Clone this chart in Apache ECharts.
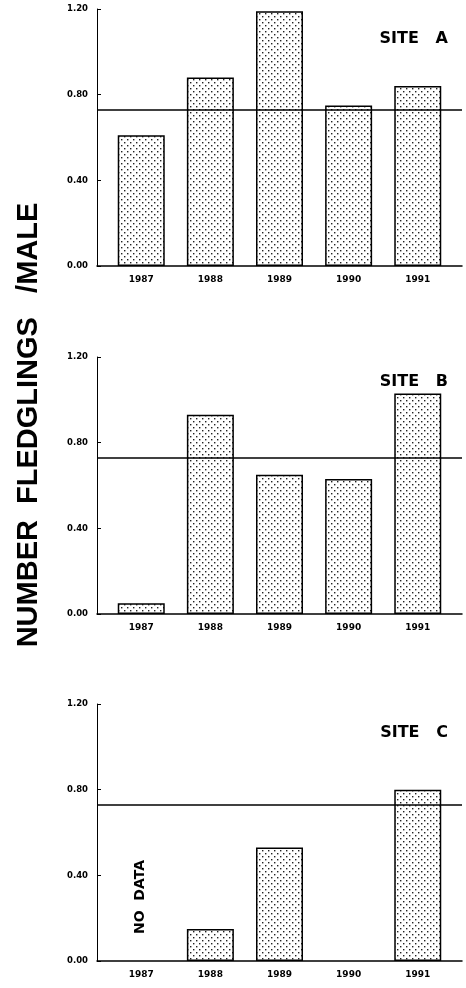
<!DOCTYPE html>
<html>
<head>
<meta charset="utf-8">
<script src="https://cdn.jsdelivr.net/npm/echarts@6/dist/echarts.min.js"></script>
<style>
html,body{margin:0;padding:0;background:#fff;}
#chart{width:466px;height:988px;}
</style>
</head>
<body>
<div id="chart"></div>
<script>
// ---- data ----
const years = [1987, 1988, 1989, 1990, 1991];
const siteA = [0.61, 0.88, 1.19, 0.75, 0.84];
const siteB = [0.05, 0.93, 0.65, 0.63, 1.03];
const siteC = [null, 0.15, 0.53, null, 0.80];
const siteNames = ['SITE   A', 'SITE   B', 'SITE   C'];
const meanLine = [0.73, 0.73, 0.73];
const yTitle = 'NUMBER  FLEDGLINGS   /MALE';
const noDataText = 'NO  DATA';

// ---- pattern ----
function makePattern() {
  const c = document.createElement('canvas');
  c.width = 6; c.height = 6;
  const g = c.getContext('2d');
  g.fillStyle = '#ffffff';
  g.fillRect(0, 0, 6, 6);
  g.fillStyle = '#222222';
  g.fillRect(1, 1, 1.4, 1.4);
  g.fillRect(4, 4, 1.4, 1.4);
  return c;
}
const pattern = makePattern();

const gridTops = [9, 357, 704];
const gridH = 257;
const allData = [siteA, siteB, siteC];

const grids = [], xAxes = [], yAxes = [], series = [], titles = [];
allData.forEach((vals, i) => {
  grids.push({left: 97, right: 4, top: gridTops[i], height: gridH});
  xAxes.push({
    type: 'value', gridIndex: i, min: 1986.36, max: 1991.64,
    axisLine: {show: true, lineStyle: {color: '#000', width: 1.5}},
    axisTick: {show: false},
    splitLine: {show: false},
    axisLabel: {
      customValues: years,
      formatter: v => String(v),
      color: '#000', fontFamily: 'DejaVu Sans', fontWeight: 'bold', fontSize: 9, margin: 9
    }
  });
  yAxes.push({
    type: 'value', gridIndex: i, min: 0, max: 1.2, interval: 0.4,
    axisLine: {show: true, lineStyle: {color: '#000', width: 1}},
    axisTick: {show: true, inside: true, length: 4, lineStyle: {color: '#000'}},
    splitLine: {show: false},
    axisLabel: {
      formatter: v => v.toFixed(2),
      color: '#000', fontFamily: 'DejaVu Sans', fontWeight: 'bold', fontSize: 8.5, margin: 9
    }
  });
  series.push({
    type: 'bar', xAxisIndex: i, yAxisIndex: i,
    data: years.map((y, k) => [y, vals[k]]),
    barWidth: 47,
    itemStyle: {color: {image: pattern, repeat: 'repeat'}, borderColor: '#000', borderWidth: 1.5},
    silent: true,
    markLine: {
      silent: true, symbol: 'none',
      label: {show: false},
      lineStyle: {color: '#000', width: 1.5, type: 'solid'},
      data: [{yAxis: meanLine[i]}]
    }
  });
  titles.push({
    text: siteNames[i], right: 13, top: gridTops[i] + [17, 12, 16][i],
    textStyle: {color: '#000', fontFamily: 'DejaVu Sans', fontWeight: 'bold', fontSize: 16}
  });
});

const chart = echarts.init(document.getElementById('chart'), null, {renderer: 'canvas'});
chart.setOption({
  animation: false,
  backgroundColor: '#fff',
  title: titles,
  grid: grids,
  xAxis: xAxes,
  yAxis: yAxes,
  series: series,
  graphic: [
    {
      type: 'text', x: 29, y: 425, rotation: Math.PI / 2,
      style: {text: yTitle, fill: '#000', font: 'bold 29px "Liberation Sans"', textAlign: 'center', textVerticalAlign: 'middle'}
    },
    {
      type: 'text', x: 140, y: 897, rotation: Math.PI / 2,
      style: {text: noDataText, fill: '#000', font: 'bold 14px "DejaVu Sans"', textAlign: 'center', textVerticalAlign: 'middle'}
    }
  ]
});
</script>
</body>
</html>
